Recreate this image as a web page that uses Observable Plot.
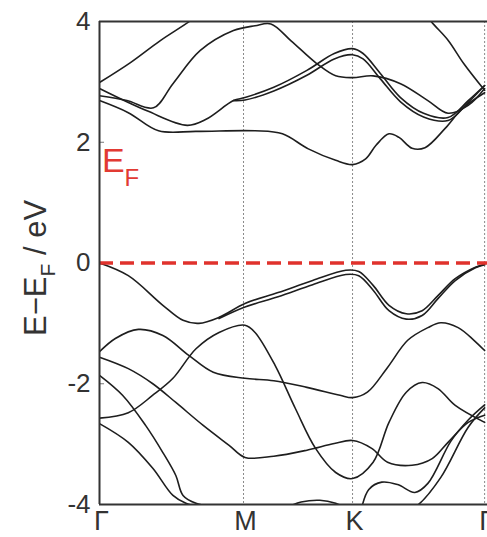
<!DOCTYPE html>
<html><head><meta charset="utf-8">
<script src="https://cdn.jsdelivr.net/npm/d3@7"></script>
<script src="https://cdn.jsdelivr.net/npm/@observablehq/plot@0.6"></script>
<style>body{margin:0;background:#fff;} svg{display:block}</style>
</head><body><div id="chart"></div>
<script>
// high-symmetry points (path length, Γ–M = 1)
const kPoints = [0, 1, 1.757, 2.674];
const kLabels = ["Γ", "M", "K", "Γ"];
const yTicks = [4, 2, 0, -2, -4];

// conduction bands [k, E-EF (eV)]
const c1 = [[0,2.69],[0.20,2.49],[0.41,2.19],[0.67,2.18],[1.08,2.19],[1.27,2.14],[1.45,1.89],[1.64,1.70],[1.757,1.63],[1.85,1.73],[1.92,1.95],[2.01,2.14],[2.08,2.08],[2.17,1.90],[2.26,1.91],[2.40,2.23],[2.52,2.56],[2.674,2.82]];
const c2 = [[0,2.89],[0.33,2.52],[0.61,2.28],[0.74,2.38],[0.93,2.69],[1.01,2.74],[1.21,2.91],[1.44,3.19],[1.63,3.47],[1.757,3.55],[1.83,3.47],[1.95,3.14],[2.09,2.74],[2.25,2.48],[2.42,2.41],[2.56,2.69],[2.674,2.94]];
const c2b = [[0.93,2.69],[1.01,2.70],[1.21,2.85],[1.44,3.11],[1.63,3.38],[1.757,3.45],[1.83,3.38],[1.95,3.05],[2.09,2.67],[2.25,2.42],[2.42,2.36],[2.56,2.66],[2.674,2.94]];
const c3 = [[0,2.77],[0.19,2.69],[0.375,2.57],[0.51,2.97],[0.70,3.52],[0.93,3.85],[1.08,3.93],[1.19,3.96],[1.33,3.68],[1.51,3.30],[1.64,3.10],[1.757,3.07],[1.90,3.10],[2.09,2.97],[2.28,2.69],[2.42,2.48],[2.56,2.61],[2.674,2.89]];
const c4 = [[0,2.99],[0.215,3.32],[0.42,3.68],[0.63,4.01],[0.77,4.26]];
const c5 = [[2.23,4.26],[2.30,4.01],[2.42,3.69],[2.53,3.30],[2.674,2.86]];

// valence bands
const v1 = [[0,0],[0.20,-0.21],[0.44,-0.70],[0.58,-0.95],[0.69,-1.00],[0.83,-0.90],[1.01,-0.67],[1.24,-0.49],[1.48,-0.29],[1.71,-0.12],[1.80,-0.14],[1.90,-0.37],[2.01,-0.70],[2.13,-0.84],[2.24,-0.79],[2.35,-0.54],[2.47,-0.26],[2.61,-0.07],[2.674,-0.02]];
const v1b = [[0.83,-0.92],[1.01,-0.73],[1.24,-0.56],[1.48,-0.36],[1.71,-0.19],[1.80,-0.21],[1.90,-0.45],[2.01,-0.79],[2.13,-0.93],[2.24,-0.87],[2.35,-0.59],[2.47,-0.29],[2.61,-0.08],[2.674,-0.03]];
const v2 = [[0,-1.47],[0.11,-1.25],[0.27,-1.10],[0.44,-1.20],[0.62,-1.53],[0.79,-1.81],[1.01,-1.91],[1.21,-1.95],[1.44,-2.06],[1.67,-2.19],[1.757,-2.23],[1.86,-2.14],[2.0,-1.73],[2.14,-1.28],[2.28,-1.07],[2.37,-0.99],[2.49,-1.07],[2.60,-1.28],[2.674,-1.45]];
const v3 = [[0,-1.56],[0.20,-1.75],[0.37,-2.00],[0.53,-2.31],[0.72,-2.69],[0.90,-3.02],[1.01,-3.22],[1.21,-3.20],[1.44,-3.10],[1.63,-2.99],[1.757,-2.94],[1.89,-3.07],[2.0,-3.30],[2.17,-3.35],[2.31,-3.24],[2.42,-2.97],[2.56,-2.64],[2.674,-2.52]];
const v4 = [[0,-2.57],[0.20,-2.48],[0.37,-2.19],[0.51,-1.91],[0.67,-1.42],[0.83,-1.15],[1.01,-1.03],[1.08,-1.15],[1.22,-1.70],[1.36,-2.41],[1.50,-3.07],[1.64,-3.47],[1.757,-3.57],[1.90,-3.30],[2.01,-2.64],[2.13,-2.14],[2.24,-1.98],[2.35,-2.08],[2.47,-2.36],[2.674,-2.64]];
const v5 = [[0,-1.86],[0.16,-2.19],[0.32,-2.69],[0.44,-3.14],[0.53,-3.52],[0.58,-3.85],[0.67,-3.98],[0.81,-4.04]];
const v6 = [[0,-2.66],[0.20,-2.97],[0.37,-3.40],[0.51,-3.85],[0.60,-3.98],[0.70,-4.04]];
const v7 = [[1.82,-4.06],[1.87,-3.75],[1.96,-3.63],[2.07,-3.67],[2.19,-3.80],[2.28,-3.65],[2.44,-2.95],[2.56,-2.60],[2.674,-2.35]];
const v8 = [[2.17,-4.06],[2.21,-4.01],[2.37,-3.55],[2.56,-2.72],[2.674,-2.40]];
const v9 = [[1.29,-4.06],[1.40,-3.96],[1.53,-3.93],[1.64,-3.98],[1.71,-4.06]];

const bands = [c1, c2, c2b, c3, c4, c5, v1, v1b, v2, v3, v4, v5, v6, v7, v8, v9];
const rows = bands.flatMap((b, i) => b.map(([k, e]) => ({band: i, k, e})));

const svg = Plot.plot({
  width: 487, height: 537,
  marginLeft: 99, marginRight: 0, marginTop: 21, marginBottom: 33,
  style: {fontFamily: "Liberation Sans, Arial, sans-serif", color: "#333", background: "#fff", overflow: "visible"},
  x: {domain: [0, 2.694], axis: null},
  y: {domain: [-4, 4], axis: null},
  marks: [
    Plot.ruleX(kPoints.slice(1), {stroke: "#8a8a8a", strokeWidth: 1, strokeDasharray: "2,2"}),
    Plot.line(rows, {x: "k", y: "e", z: "band", curve: "catmull-rom", stroke: "#1e1e1e", strokeWidth: 1.6, clip: true}),
    Plot.ruleY([2, -2], {x1: 0, x2: 0.035, stroke: "#777", strokeWidth: 1}),
    Plot.ruleY([0], {stroke: "#e0322c", strokeWidth: 3.5, strokeDasharray: "14,7"}),
    Plot.ruleX([0], {stroke: "#333", strokeWidth: 2}),
    Plot.ruleY([4, -4], {stroke: "#333", strokeWidth: 2}),
    Plot.axisY({ticks: yTicks, label: null, tickSize: 0, tickPadding: 9, fontSize: 26, tickFormat: d => String(d)}),
    Plot.axisX({ticks: kPoints, label: null, tickSize: 0, tickPadding: 6, fontSize: 27, dx: 2, tickFormat: d => kLabels[kPoints.indexOf(d)]})
  ]
});

const sx = svg.scale("x"), sy = svg.scale("y");
const root = d3.select(svg);

// E_F annotation
const ef = root.append("text")
  .attr("x", sx.apply(0.02)).attr("y", sy.apply(1.50))
  .attr("text-anchor", "start")
  .attr("fill", "#e23a33").attr("font-size", 34)
  .attr("font-family", "Liberation Sans, Arial, sans-serif");
ef.append("tspan").text("E");
ef.append("tspan").attr("font-size", 24).attr("dy", 14).text("F");

// y-axis title
const yl = root.append("text")
  .attr("transform", `translate(46,${sy.apply(-0.09)}) rotate(-90)`)
  .attr("text-anchor", "middle")
  .attr("fill", "#333").attr("font-size", 31)
  .attr("font-family", "Liberation Sans, Arial, sans-serif");
yl.append("tspan").text("E−E");
yl.append("tspan").attr("font-size", 21).attr("dy", 9).text("F");
yl.append("tspan").attr("dy", -9).text(" / eV");

document.getElementById("chart").appendChild(svg);
</script>
</body></html>
